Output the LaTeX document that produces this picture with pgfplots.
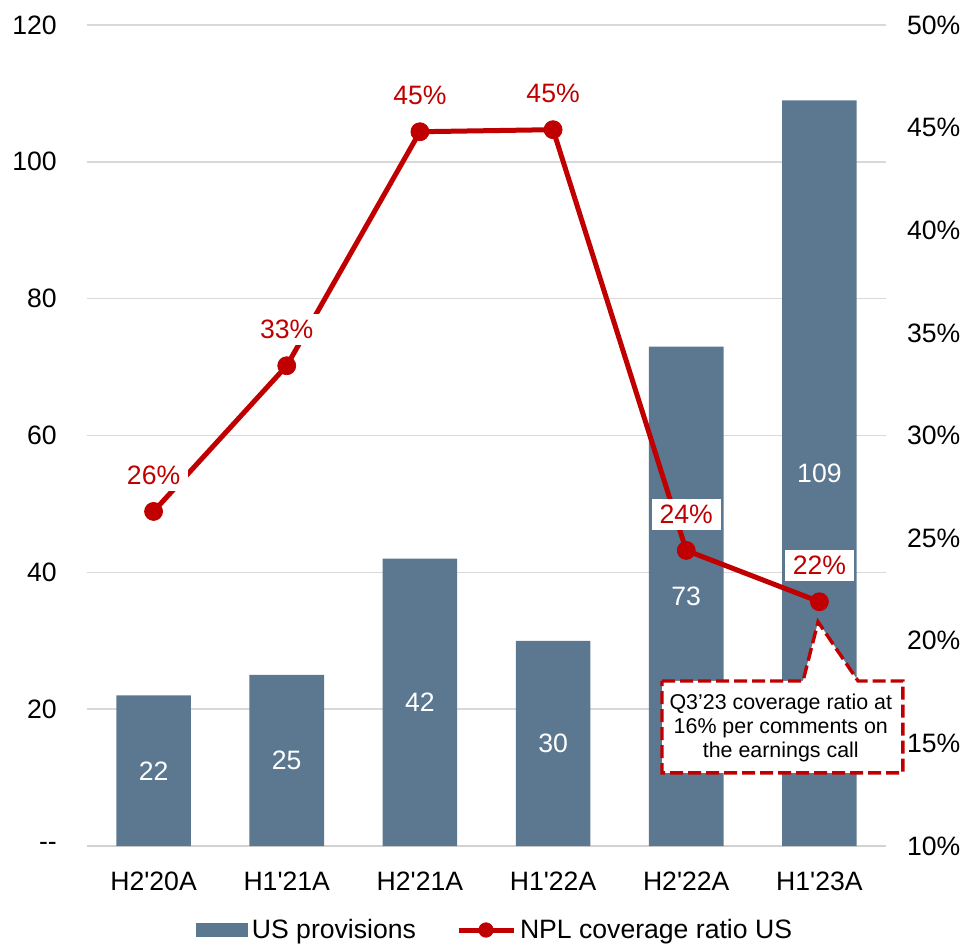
\documentclass[border=0pt]{standalone}
\usepackage{fontspec}
\setmainfont{Liberation Sans}
\usepackage{pgfplots}
\pgfplotsset{compat=1.18}
\usepackage{pgfplotstable}

\definecolor{provblue}{RGB}{91,120,144}
\definecolor{nplred}{RGB}{192,0,0}

% Half-year US provisions and NPL coverage ratio (%)
\pgfplotstableread{
x prov npl
0 22 26.3
1 25 33.4
2 42 44.8
3 30 44.9
4 73 24.4
5 109 21.9
}\datatable

\newcommand{\chartfont}{\fontsize{13.3}{16}\selectfont}

\begin{document}
\begin{tikzpicture}[font=\chartfont]
\path[use as bounding box] (-43.5pt,-49pt) rectangle (439.5pt,423pt);

% Left axis: provisions (bars)
\begin{axis}[
  scale only axis, width=399.5pt, height=410.5pt,
  xmin=-0.5, xmax=5.5, ymin=0, ymax=120,
  /pgf/number format/assume math mode=true,
  xtick={0,...,5},
  xticklabels={H2\textquotesingle20A,H1\textquotesingle21A,H2\textquotesingle21A,H1\textquotesingle22A,H2\textquotesingle22A,H1\textquotesingle23A},
  ytick={0,20,...,120},
  yticklabels={\mbox{-}\mbox{-},20,40,60,80,100,120},
  major tick length=0pt,
  ymajorgrids, grid style={draw=gray!30, line width=0.8pt},
  axis x line*=bottom, axis y line*=left,
  x axis line style={draw=gray!35, line width=1pt, -},
  y axis line style={draw=none},
  tick label style={font=\chartfont},
  xticklabel style={yshift=-9.6pt},
  yticklabel style={xshift=-11.6pt},
  legend columns=2,
  legend cell align=left,
  legend style={draw=none, fill=none, font=\chartfont,
    at={(0.5,0)}, anchor=center, yshift=-42pt, xshift=4.75pt,
    nodes={inner xsep=2pt},
    /tikz/every even column/.append style={column sep=18pt}},
]
\addplot[ybar, bar width=0.56, fill=provblue, draw=none,
  legend image code/.code={\fill[provblue] (0pt,-3.5pt) rectangle (26pt,3.5pt);}]
  table[x=x, y=prov]{\datatable};
\addlegendentry{US provisions}

% value labels centred inside the bars
\addplot[draw=none, mark=none, forget plot,
  nodes near coords, point meta=explicit,
  nodes near coords style={text=white, anchor=center, font=\chartfont}]
  table[x=x, y expr=\thisrow{prov}/2, meta=prov]{\datatable};

\addlegendimage{legend image code/.code={
  \draw[nplred, line width=2.5pt] (0pt,0pt) -- (27.5pt,0pt);
  \fill[nplred] (13.75pt,0pt) circle (3.6pt);}}
\addlegendentry{NPL coverage ratio US}
\end{axis}

% Right axis: coverage ratio (line)
\begin{axis}[
  scale only axis, width=399.5pt, height=410.5pt,
  xmin=-0.5, xmax=5.5, ymin=10, ymax=50,
  /pgf/number format/assume math mode=true,
  axis x line=none, axis y line*=right,
  y axis line style={draw=none},
  ytick={10,15,...,50},
  yticklabels={10\%,15\%,20\%,25\%,30\%,35\%,40\%,45\%,50\%},
  major tick length=0pt,
  tick label style={font=\chartfont},
  yticklabel style={xshift=7pt},
  clip=false,
]
\addplot[nplred, line width=2.5pt, mark=*, mark size=4.5pt,
  mark options={line width=0.4pt},
  nodes near coords={\pgfmathprintnumber[fixed,precision=0,assume math mode=true]{\pgfplotspointmeta}\%},
  nodes near coords style={fill=white, text=nplred, anchor=center,
    yshift=18pt, inner xsep=4pt, inner ysep=3pt, font=\chartfont}]
  table[x=x, y=npl]{\datatable};

% callout
\draw[nplred, line width=1.7pt, dash pattern=on 6.5pt off 2.5pt, fill=white]
  (axis cs:3.818,18.04) -- (axis cs:4.877,18.04) -- (axis cs:4.99,20.92)
  -- (axis cs:5.29,18.04) -- (axis cs:5.627,18.04) -- (axis cs:5.627,13.56)
  -- (axis cs:3.818,13.56) -- cycle;
\node[align=center, font=\fontsize{10.7}{12.2}\selectfont]
  at (axis cs:4.71,15.75)
  {Q3’23 coverage ratio at\\16\% per comments on\\the earnings call};
\end{axis}
\end{tikzpicture}
\end{document}
